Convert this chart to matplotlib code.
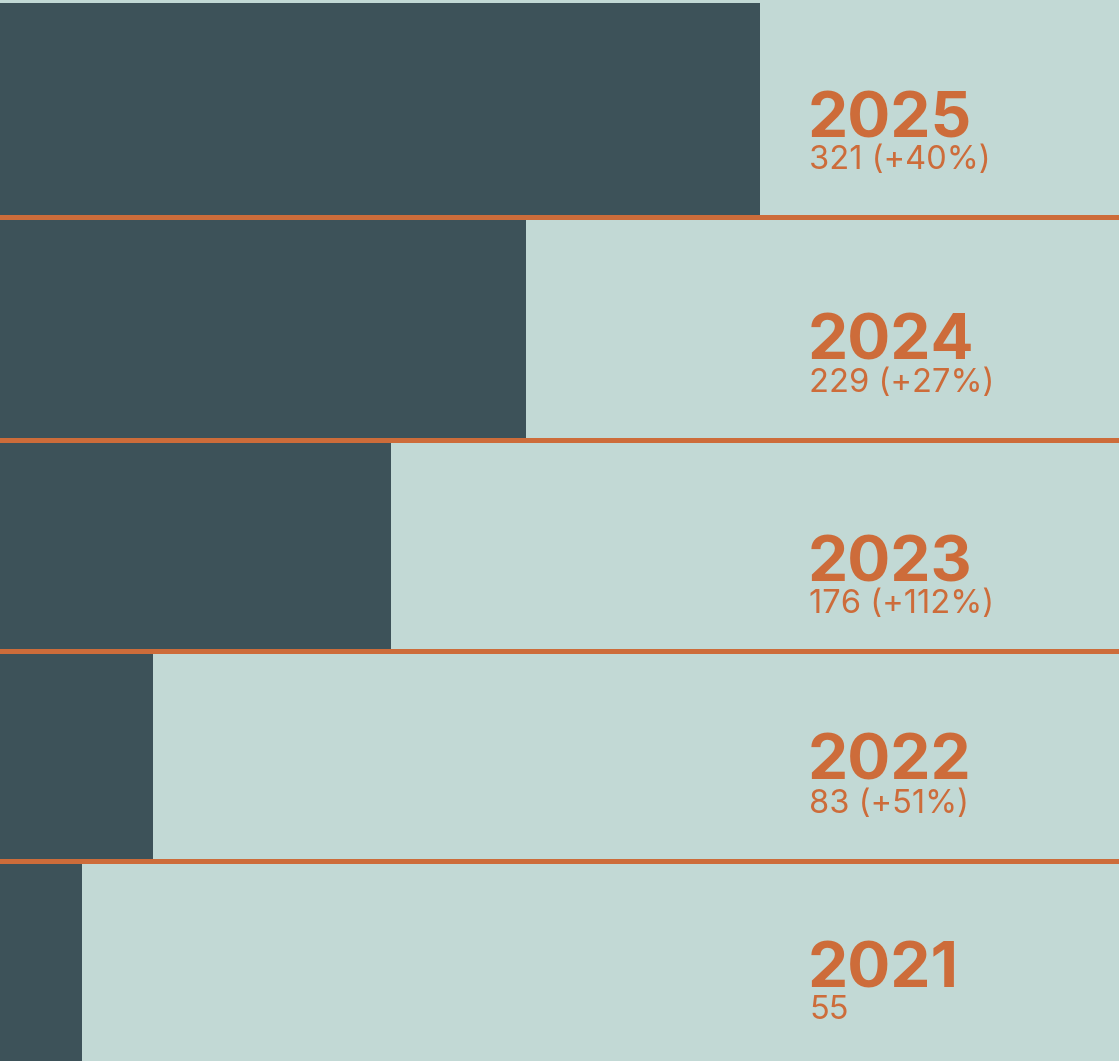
import matplotlib.pyplot as plt

# data
years = ["2025", "2024", "2023", "2022", "2021"]
values = [321, 229, 176, 83, 55]
growth = ["+40%", "+27%", "+112%", "+51%", None]

# layout (pixel rows, top-down) - rows are not quite equal in the original
row_top = [3, 216.5, 439.5, 650.5, 860.5]
row_bottom = [216.5, 439.5, 650.5, 860.5, 1061]
year_baseline = [137, 360, 581, 780, 987]
sub_baseline = [169, 392, 613, 813, 1019]

dark = "#3d5259"
light = "#c2d9d5"
orange = "#cd6c3a"

fig = plt.figure(figsize=(11.19, 10.61), dpi=100)
fig.patch.set_facecolor(light)
ax = fig.add_axes([0, 0, 1, 1])
ax.set_facecolor(light)

centers = [(t + b) / 2 for t, b in zip(row_top, row_bottom)]
heights = [b - t for t, b in zip(row_top, row_bottom)]
ax.barh(centers, values, height=heights, left=0, color=dark, edgecolor="none")

# orange separators between rows
for y in row_bottom[:-1]:
    ax.axhline(y, color=orange, linewidth=3.6, xmax=0.998)

# labels on the right
tr = ax.get_yaxis_transform()
for i in range(len(years)):
    ax.text(0.722, year_baseline[i], years[i], transform=tr, color=orange,
            fontsize=46, fontweight="bold", family="Inter", va="baseline", ha="left")
    sub = str(values[i]) if growth[i] is None else f"{values[i]} ({growth[i]})"
    ax.text(0.723, sub_baseline[i], sub, transform=tr, color=orange,
            fontsize=23.5, family="Inter", va="baseline", ha="left")

# axis origin sits off-canvas to the left in the original
ax.set_xlim(22.8, 461.8)
ax.set_ylim(1061, 0)
ax.axis("off")

fig.savefig("out.png", dpi=100, facecolor=light)
